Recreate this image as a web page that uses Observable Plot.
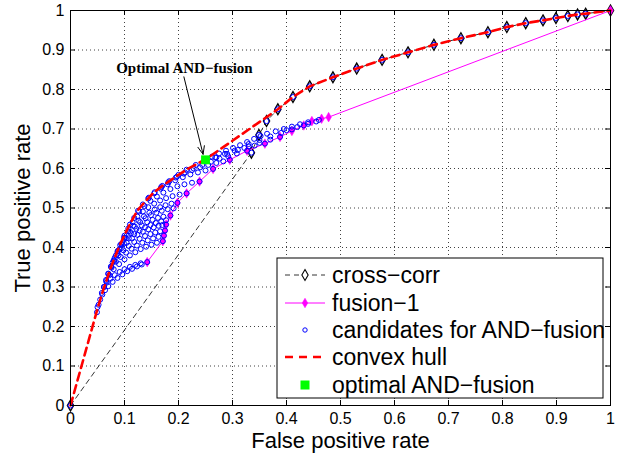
<!DOCTYPE html>
<html><head><meta charset="utf-8">
<script src="https://cdn.jsdelivr.net/npm/d3@7"></script>
<script src="https://cdn.jsdelivr.net/npm/@observablehq/plot@0.6"></script>
<style>body{margin:0;background:#fff}</style>
</head><body><div id="chart"></div><script>
// ---- data ----
const ticks = [0,0.1,0.2,0.3,0.4,0.5,0.6,0.7,0.8,0.9,1];
const tickLabels = ["0","0.1","0.2","0.3","0.4","0.5","0.6","0.7","0.8","0.9","1"];

const crossCorrFPR = [0,0.335,0.349,0.363,0.384,0.412,0.443,0.486,0.530,0.577,0.625,0.673,0.723,0.773,0.808,0.843,0.875,0.899,0.921,0.939,0.954,1];
const crossCorrTPR = [0,0.640,0.685,0.720,0.750,0.781,0.808,0.831,0.853,0.875,0.894,0.913,0.930,0.945,0.958,0.968,0.975,0.981,0.986,0.990,0.992,1];

const fusion1FPR = [0.142,0.171,0.173,0.175,0.177,0.185,0.198,0.215,0.239,0.264,0.295,0.327,0.360,0.388,0.410,0.432,0.447,0.465,0.478,1];
const fusion1TPR = [0.363,0.416,0.430,0.443,0.458,0.481,0.513,0.537,0.567,0.599,0.622,0.645,0.663,0.680,0.695,0.709,0.720,0.726,0.730,1];

const candidateCurves = [
  [[0,0],[0.049,0.236],[0.050,0.249]],
  [[0.052,0.255],[0.055,0.268],[0.059,0.281],[0.064,0.292],[0.070,0.302],[0.078,0.313],[0.087,0.323],[0.096,0.332],[0.105,0.340],[0.114,0.346],[0.123,0.352],[0.132,0.357],[0.142,0.363]],
  [[0.058,0.285],[0.062,0.300],[0.067,0.311],[0.074,0.321],[0.082,0.330],[0.091,0.338],[0.100,0.345],[0.110,0.351],[0.120,0.356],[0.130,0.360]],
  [[0.062,0.300],[0.066,0.315],[0.072,0.330],[0.080,0.345],[0.090,0.358],[0.100,0.370],[0.110,0.380],[0.120,0.388],[0.130,0.396],[0.140,0.402],[0.150,0.407],[0.160,0.412],[0.171,0.416]],
  [[0.066,0.318],[0.070,0.333],[0.076,0.349],[0.084,0.364],[0.093,0.376],[0.103,0.387],[0.113,0.397],[0.123,0.405],[0.133,0.412],[0.143,0.418],[0.153,0.423],[0.163,0.427],[0.173,0.430]],
  [[0.070,0.334],[0.075,0.351],[0.081,0.366],[0.089,0.380],[0.098,0.393],[0.108,0.404],[0.118,0.414],[0.128,0.422],[0.138,0.429],[0.148,0.434],[0.157,0.438],[0.166,0.441],[0.175,0.443]],
  [[0.075,0.352],[0.080,0.368],[0.087,0.385],[0.095,0.399],[0.104,0.412],[0.114,0.423],[0.124,0.432],[0.134,0.440],[0.144,0.446],[0.154,0.451],[0.163,0.455],[0.170,0.457],[0.177,0.458]],
  [[0.078,0.362],[0.084,0.380],[0.091,0.396],[0.099,0.410],[0.108,0.423],[0.118,0.434],[0.128,0.443],[0.138,0.451],[0.148,0.457],[0.158,0.462],[0.168,0.466],[0.177,0.469]],
  [[0.082,0.374],[0.088,0.392],[0.095,0.408],[0.103,0.423],[0.112,0.436],[0.122,0.447],[0.132,0.456],[0.142,0.464],[0.152,0.470],[0.162,0.475],[0.172,0.478],[0.185,0.481]],
  [[0.087,0.390],[0.094,0.409],[0.101,0.425],[0.110,0.440],[0.119,0.453],[0.129,0.464],[0.139,0.474],[0.149,0.482],[0.159,0.488],[0.169,0.493],[0.180,0.497],[0.191,0.499]],
  [[0.092,0.406],[0.099,0.425],[0.107,0.441],[0.116,0.455],[0.126,0.468],[0.136,0.479],[0.146,0.488],[0.156,0.496],[0.166,0.502],[0.176,0.507],[0.187,0.511],[0.198,0.513]],
  [[0.100,0.430],[0.107,0.448],[0.115,0.464],[0.124,0.478],[0.134,0.491],[0.144,0.502],[0.155,0.511],[0.166,0.519],[0.177,0.525],[0.189,0.530],[0.202,0.534],[0.215,0.537]],
  [[0.110,0.458],[0.118,0.475],[0.127,0.491],[0.137,0.505],[0.148,0.518],[0.160,0.529],[0.172,0.539],[0.185,0.548],[0.198,0.555],[0.211,0.560],[0.225,0.564],[0.239,0.567]],
  [[0.125,0.493],[0.134,0.509],[0.144,0.524],[0.155,0.537],[0.167,0.549],[0.180,0.560],[0.194,0.570],[0.208,0.578],[0.222,0.585],[0.236,0.590],[0.250,0.595],[0.264,0.599]],
  [[0.145,0.526],[0.156,0.540],[0.168,0.553],[0.181,0.565],[0.195,0.577],[0.210,0.587],[0.225,0.596],[0.240,0.603],[0.255,0.609],[0.270,0.614],[0.283,0.618],[0.295,0.622]],
  [[0.170,0.556],[0.183,0.568],[0.197,0.579],[0.212,0.590],[0.228,0.600],[0.244,0.609],[0.260,0.617],[0.276,0.625],[0.292,0.631],[0.308,0.638],[0.327,0.645]],
  [[0.200,0.584],[0.215,0.597],[0.232,0.609],[0.250,0.619],[0.268,0.628],[0.286,0.637],[0.304,0.645],[0.322,0.652],[0.341,0.658],[0.360,0.663]],
  [[0.250,0.622],[0.262,0.630],[0.275,0.638],[0.288,0.645],[0.301,0.652],[0.314,0.659],[0.327,0.667],[0.340,0.675],[0.352,0.682],[0.364,0.688],[0.380,0.694],[0.395,0.700],[0.410,0.706],[0.425,0.712],[0.440,0.717],[0.460,0.723]],
  [[0.270,0.628],[0.290,0.637],[0.310,0.647],[0.330,0.656],[0.350,0.665],[0.370,0.673],[0.388,0.680]],
  [[0.330,0.662],[0.350,0.672],[0.370,0.681],[0.390,0.690],[0.410,0.699],[0.432,0.709]],
  [[0.400,0.697],[0.420,0.705],[0.440,0.713],[0.455,0.719]]
];

const hullFPR = [0,0.050,0.056,0.062,0.068,0.074,0.080,0.090,0.100,0.110,0.123,0.138,0.154,0.170,0.185,0.200,0.216,0.232,0.250,0.384,0.412,0.443,0.486,0.530,0.577,0.625,0.673,0.723,0.773,0.808,0.843,0.875,0.899,0.921,0.939,0.954,1];
const hullTPR = [0,0.245,0.272,0.298,0.322,0.347,0.368,0.402,0.432,0.459,0.492,0.516,0.539,0.556,0.570,0.584,0.598,0.610,0.623,0.750,0.781,0.808,0.831,0.853,0.875,0.894,0.913,0.930,0.945,0.958,0.968,0.975,0.981,0.986,0.990,0.992,1];

const optimalFPR = [0.250];
const optimalTPR = [0.622];

const annotationText = ["Optimal AND\u2212fusion"];
const annotationX = [0.211];
const annotationY = [0.853];
const arrowFrom = [0.210, 0.832];
const arrowTo = [0.2455, 0.636];

const legendLabels = ["cross\u2212corr","fusion\u22121","candidates for AND\u2212fusion","convex hull","optimal AND\u2212fusion"];
const xLabel = "False positive rate";
const yLabel = "True positive rate";

// ---- derived tables ----
const zip = (xs, ys) => xs.map((x, i) => ({x, y: ys[i]}));
const crossCorr = zip(crossCorrFPR, crossCorrTPR);
const fusion1 = zip(fusion1FPR, fusion1TPR);
const hull = zip(hullFPR, hullTPR);
const optimal = zip(optimalFPR, optimalTPR);
const candidates = candidateCurves.flat().map(([x, y]) => ({x, y}))
  .concat(crossCorr.slice(1, -1));

const W = 637, H = 457, mL = 70, mR = 27, mT = 10, mB = 52;
const iW = W - mL - mR, iH = H - mT - mB;
const fmt = d => tickLabels[ticks.indexOf(d)];
const inner = ticks.slice(1, -1);

const plot = Plot.plot({
  width: W, height: H,
  marginLeft: mL, marginRight: mR, marginTop: mT, marginBottom: mB,
  x: {domain: [0, 1]},
  y: {domain: [0, 1]},
  style: {fontFamily: "'Liberation Sans', Arial, sans-serif", fontSize: "16px", background: "white", color: "black", overflow: "visible"},
  marks: [
    Plot.gridX(inner, {stroke: "#000", strokeOpacity: 0.75, strokeDasharray: "1,3", strokeWidth: 1}),
    Plot.gridY(inner, {stroke: "#000", strokeOpacity: 0.75, strokeDasharray: "1,3", strokeWidth: 1}),
    Plot.axisX(ticks, {tickSize: 0, tickPadding: 7, tickFormat: fmt, fontSize: 16, label: null}),
    Plot.axisY(ticks, {tickSize: 0, tickPadding: 6, tickFormat: fmt, fontSize: 16, label: null}),
    Plot.tickX(ticks, {x: d => d, insetTop: iH - 5, stroke: "black"}),
    Plot.tickX(ticks, {x: d => d, insetBottom: iH - 5, stroke: "black"}),
    Plot.tickY(ticks, {y: d => d, insetRight: iW - 5, stroke: "black"}),
    Plot.tickY(ticks, {y: d => d, insetLeft: iW - 5, stroke: "black"}),
    Plot.text([xLabel], {frameAnchor: "bottom", textAnchor: "middle", lineAnchor: "bottom", dy: 42, fontSize: 22, fill: "black"}),
    Plot.text([yLabel], {frameAnchor: "left", textAnchor: "middle", lineAnchor: "middle", dx: -48, rotate: -90, fontSize: 22, fill: "black"}),
    // cross-corr
    Plot.line(crossCorr, {x: "x", y: "y", stroke: "black", strokeWidth: 0.8, strokeDasharray: "5,4"}),
    Plot.dot(crossCorr, {x: "x", y: "y", symbol: "diamond", r: 3.3, stroke: "black", strokeWidth: 1.3, fill: "white"}),
    // fusion-1
    Plot.line(fusion1, {x: "x", y: "y", stroke: "#ff00ff", strokeWidth: 1}),
    Plot.dot(fusion1, {x: "x", y: "y", symbol: "diamond", r: 2.9, fill: "#ff00ff", stroke: "#ff00ff", strokeWidth: 0.5}),
    // candidates
    Plot.dot(candidates, {x: "x", y: "y", r: 2.5, stroke: "#0000ff", strokeWidth: 1, fill: "none"}),
    // convex hull
    Plot.line(hull, {x: "x", y: "y", stroke: "#ff0000", strokeWidth: 2.6, strokeDasharray: "8,5"}),
    // optimal
    Plot.dot(optimal, {x: "x", y: "y", symbol: "square", r: 5, fill: "#00ff00", stroke: "none"}),
    // annotation
    Plot.arrow([0], {x1: () => arrowFrom[0], y1: () => arrowFrom[1], x2: () => arrowTo[0], y2: () => arrowTo[1],
      stroke: "black", strokeWidth: 1, headLength: 13, headAngle: 45}),
    Plot.text(annotationText, {x: annotationX, y: annotationY, text: d => d, fontFamily: "'Liberation Serif', 'Times New Roman', serif",
      fontWeight: "bold", fontSize: 15, fill: "black"}),
    Plot.frame({stroke: "black", strokeWidth: 1})
  ]
});
document.getElementById("chart").appendChild(plot);

// ---- legend (drawn inside axes) ----
const svg = d3.select(plot);
const lg = svg.append("g").attr("font-family", "'Liberation Sans', Arial, sans-serif").attr("font-size", 23)
  .attr("text-anchor", "start");
lg.append("rect").attr("x", 277).attr("y", 258).attr("width", 326).attr("height", 140)
  .attr("fill", "white").attr("stroke", "black").attr("stroke-width", 1);
const rowY = [275, 303, 330, 357, 385];
const sx1 = 285, sx2 = 325, sm = 305, tx = 332;
const diamond = r => d3.symbol(d3.symbolDiamond, Math.PI * r * r)();
// row 0 cross-corr
lg.append("line").attr("x1", sx1).attr("x2", sx2).attr("y1", rowY[0]).attr("y2", rowY[0])
  .attr("stroke", "black").attr("stroke-width", 0.8).attr("stroke-dasharray", "5,4");
lg.append("path").attr("d", diamond(3.3)).attr("transform", `translate(${sm},${rowY[0]})`)
  .attr("fill", "white").attr("stroke", "black").attr("stroke-width", 1.1);
// row 1 fusion-1
lg.append("line").attr("x1", sx1).attr("x2", sx2).attr("y1", rowY[1]).attr("y2", rowY[1])
  .attr("stroke", "#ff00ff").attr("stroke-width", 1);
lg.append("path").attr("d", diamond(2.9)).attr("transform", `translate(${sm},${rowY[1]})`)
  .attr("fill", "#ff00ff").attr("stroke", "#ff00ff").attr("stroke-width", 0.5);
// row 2 candidates
lg.append("circle").attr("cx", sm).attr("cy", rowY[2]).attr("r", 2.2)
  .attr("fill", "none").attr("stroke", "#0000ff").attr("stroke-width", 1);
// row 3 hull
lg.append("line").attr("x1", sx1).attr("x2", sx2).attr("y1", rowY[3]).attr("y2", rowY[3])
  .attr("stroke", "#ff0000").attr("stroke-width", 2.6).attr("stroke-dasharray", "8,6");
// row 4 optimal
lg.append("rect").attr("x", sm - 4.5).attr("y", rowY[4] - 4.5).attr("width", 9).attr("height", 9).attr("fill", "#00ff00");
legendLabels.forEach((t, i) => {
  lg.append("text").attr("x", tx).attr("y", rowY[i]).attr("dy", "0.35em").attr("fill", "black")
    .attr("text-anchor", "start").text(t);
});
</script></body></html>
